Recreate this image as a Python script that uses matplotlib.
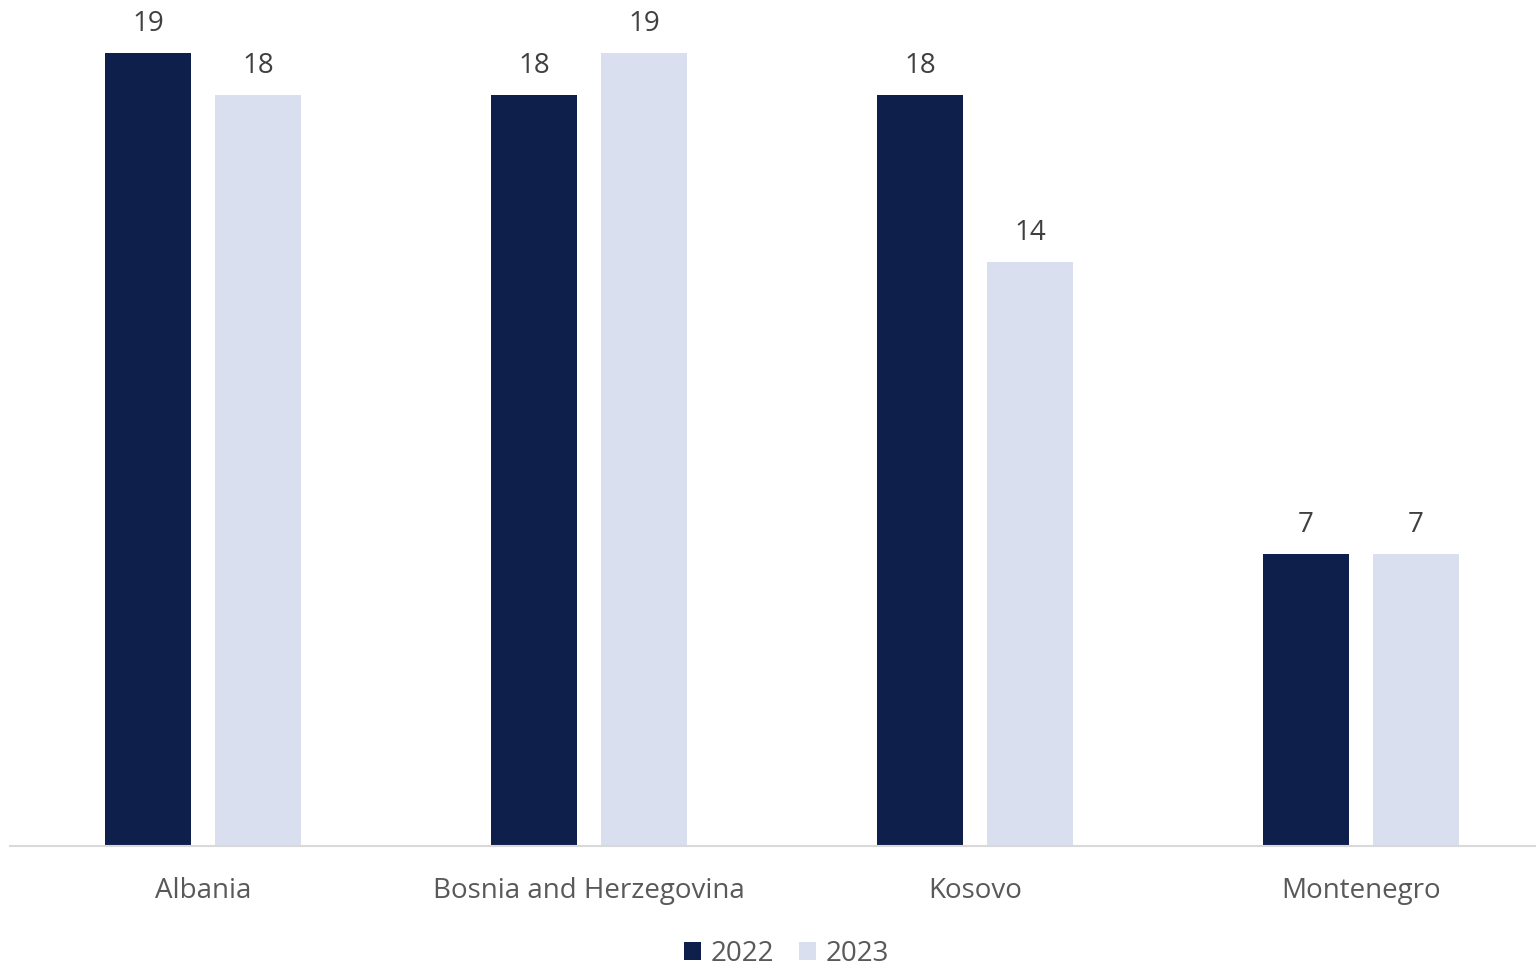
import matplotlib
matplotlib.use("Agg")
import matplotlib.pyplot as plt
import numpy as np

countries = ["Albania", "Bosnia and Herzegovina", "Kosovo", "Montenegro"]
years = ["2022", "2023"]
vals_2022 = [19, 18, 18, 7]
vals_2023 = [18, 19, 14, 7]
colors = ["#0f1f4b", "#dadff0"]

plt.rcParams['font.family'] = ['Open Sans', 'DejaVu Sans']

W, H = 1536, 966
fig = plt.figure(figsize=(W / 100, H / 100), dpi=100)
# axes: x from 10px to 1554px, y from 0 to 846px (baseline)
ax = fig.add_axes([10 / W, (H - 846) / H, 1544 / W, 846 / H])

x = np.arange(len(countries))
bw = 0.223
off = 0.1425
for i, (vals, lab) in enumerate(zip([vals_2022, vals_2023], years)):
    pos = x - off if i == 0 else x + off
    bars = ax.bar(pos, vals, width=bw, color=colors[i], label=lab, zorder=2)
    for b, v in zip(bars, vals):
        ax.text(b.get_x() + b.get_width() / 2, v + 0.35, str(v),
                ha="center", va="bottom", fontsize=20, color="#404040")

ax.set_xlim(-0.5, 3.5)
ax.set_ylim(0, 846 / (793 / 19))
ax.set_yticks([])
ax.set_xticks(x)
ax.set_xticklabels(countries, fontsize=20, color="#595959")
ax.tick_params(axis="x", length=0, pad=22)
for s in ["top", "right", "left"]:
    ax.spines[s].set_visible(False)
ax.spines["bottom"].set_color("#d9d9d9")
ax.spines["bottom"].set_linewidth(1.5)

leg = fig.legend(loc="lower center", bbox_to_anchor=(0.512, -0.028), ncol=2,
                 frameon=False, fontsize=20, handlelength=0.6, handleheight=0.6,
                 handletextpad=0.35, columnspacing=0.9)
for t in leg.get_texts():
    t.set_color("#595959")

fig.savefig("out.png", dpi=100)
